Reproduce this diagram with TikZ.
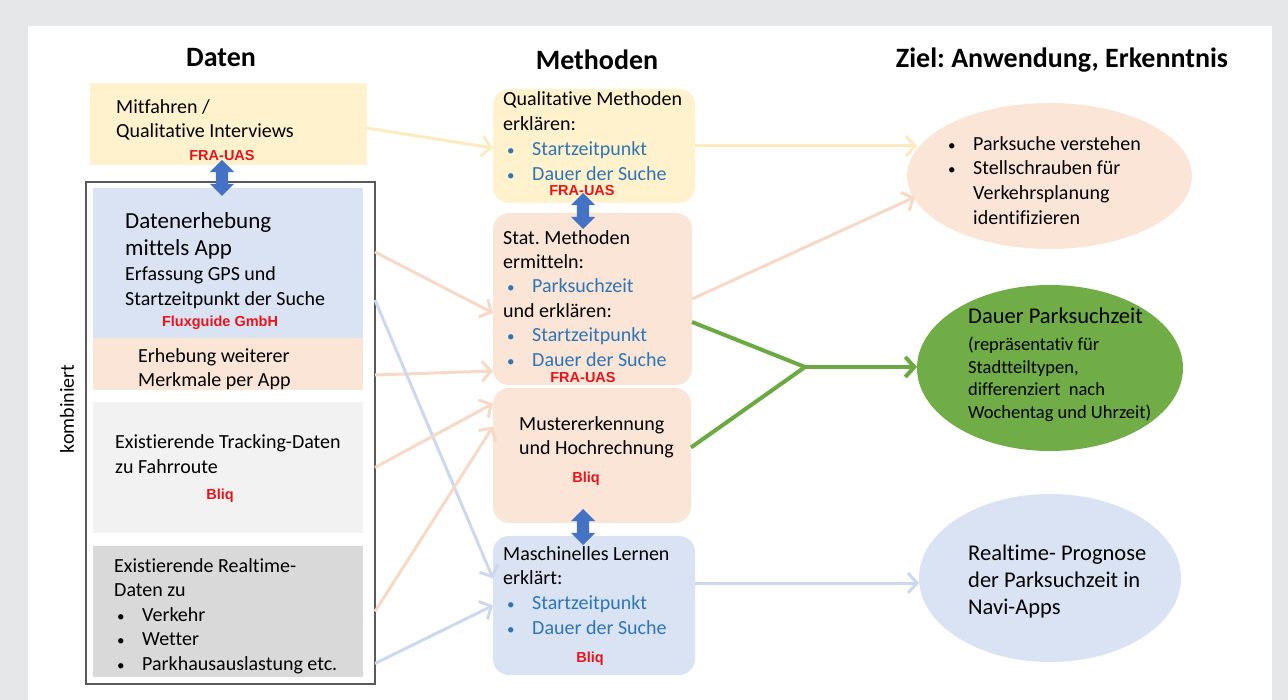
\documentclass[tikz,border=0pt]{standalone}
\usepackage{fontspec}
\setmainfont{Carlito}[Ligatures=NoCommon]
\newfontfamily\arialf{Liberation Sans}
\usetikzlibrary{shapes.geometric,shapes.arrows,arrows.meta,calc}
\frenchspacing
\definecolor{bggrey}{HTML}{E6E7E9}
\definecolor{yel}{HTML}{FFF2CC}
\definecolor{pch}{HTML}{FBE5D6}
\definecolor{lblue}{HTML}{DAE3F3}
\definecolor{gA}{HTML}{F2F2F2}
\definecolor{gB}{HTML}{D9D9D9}
\definecolor{txtblue}{HTML}{2E75B6}
\definecolor{lblred}{HTML}{E8141C}
\definecolor{yelln}{HTML}{FDEBBF}
\definecolor{pchln}{HTML}{F8D9C6}
\definecolor{bluln}{HTML}{CDD8EE}
\definecolor{grnln}{HTML}{6AAA40}
\definecolor{grnfill}{HTML}{70AD47}
\definecolor{dblue}{HTML}{4472C4}
\definecolor{framec}{HTML}{595959}
\newcommand{\bodyf}{\fontsize{20}{24.5}\selectfont}
\newcommand{\smbullet}{{\fontsize{15}{15}\selectfont\textbullet}}
\newcommand{\bitem}[1]{\makebox[25pt][l]{\smbullet}#1}
\tikzset{
  sqbox/.style={rectangle, inner sep=0pt, outer sep=0pt, draw=none},
  rbox/.style={rectangle, rounded corners=16pt, inner sep=0pt, outer sep=0pt, draw=none},
  ell/.style={ellipse, inner sep=0pt, outer sep=0pt, draw=none},
  txt/.style={anchor=north west, inner sep=0pt, align=left, font=\bodyf, execute at begin node=\strut},
  lbl/.style={font=\arialf\bfseries\fontsize{14.5}{16}\selectfont, text=lblred, inner sep=0pt},
  head/.style={font=\bfseries\fontsize{28}{32}\selectfont, inner sep=0pt},
  conn/.style={line width=3pt, -{Straight Barb[length=9pt,width=20pt]}},
  dbl/.style={double arrow, fill=dblue, rotate=90, minimum height=36pt, minimum width=24pt,
    inner xsep=0pt, inner ysep=6pt, double arrow head extend=6pt}
}
\begin{document}
\begin{tikzpicture}[x=1pt,y=-1pt]
\useasboundingbox (0,0) rectangle (1288,700);
\fill[bggrey] (0,0) rectangle (1288,700);
\fill[white] (28,26) rectangle (1272,700);

% headings
\node[head] (hDaten) at (221,58) {Daten};
\node[head] (hMeth) at (597,60) {Methoden};
\node[head] (hZiel) at (1062,60) {Ziel: Anwendung, Erkenntnis};

% left column
\node[sqbox, fill=yel, minimum width=277pt, minimum height=82pt] (mitf) at (228.5,124.5) {};
\node[sqbox, draw=framec, line width=1.2pt, minimum width=289pt, minimum height=502pt] (frame) at (230.5,433) {};
\node[sqbox, fill=lblue, minimum width=270pt, minimum height=150pt] (datA) at (228,263) {};
\node[sqbox, fill=pch, minimum width=270pt, minimum height=52pt] (erh) at (228,364) {};
\node[sqbox, fill=gA, minimum width=270pt, minimum height=131pt] (track) at (228,467.5) {};
\node[sqbox, fill=gB, minimum width=270pt, minimum height=131pt] (rt) at (228,611.5) {};

\node[txt] (tMitf) at (116,99) {Mitfahren /\\Qualitative Interviews};
\node[lbl] (lMitf) at (222,156) {FRA-UAS};
\node[txt, font=\fontsize{23}{27}\selectfont] (tDatA) at (125,212) {Datenerhebung\\mittels App};
\node[txt, font=\fontsize{20}{25}\selectfont] (tDatB) at (125,266) {Erfassung GPS und\\Startzeitpunkt der Suche};
\node[lbl] (lDat) at (220,323) {Fluxguide GmbH};
\node[txt, font=\fontsize{20}{24}\selectfont] (tErh) at (138,348) {Erhebung weiterer\\Merkmale per App};
\node[txt, font=\fontsize{20}{25}\selectfont] (tTrack) at (115,434) {Existierende Tracking-Daten\\zu Fahrroute};
\node[lbl] (lTrack) at (220,496) {Bliq};
\node[txt] (tRt) at (114,558) {Existierende Realtime-\\Daten zu\\\hspace*{3pt}\bitem{Verkehr}\\\hspace*{3pt}\bitem{Wetter}\\\hspace*{3pt}\bitem{Parkhausauslastung etc.}};
\node[font=\bodyf, rotate=90, inner sep=0pt] (komb) at (67,409) {kombiniert};

% middle column
\node[rbox, fill=yel, minimum width=202pt, minimum height=114pt] (qual) at (594,146) {};
\node[rbox, fill=pch, minimum width=199pt, minimum height=172pt] (stat) at (592.5,299) {};
\node[rbox, fill=pch, minimum width=198pt, minimum height=135pt] (must) at (592,455.5) {};
\node[rbox, fill=lblue, minimum width=202pt, minimum height=139pt] (ml) at (594,605.5) {};

\node[txt, font=\fontsize{20}{25}\selectfont] (tQual) at (503,91) {Qualitative Methoden\\erklären:\\\textcolor{txtblue}{\hspace*{4pt}\bitem{Startzeitpunkt}}\\\textcolor{txtblue}{\hspace*{4pt}\bitem{Dauer der Suche}}};
\node[lbl] (lQual) at (582,191) {FRA-UAS};
\node[txt, font=\fontsize{20}{24.4}\selectfont] (tStat) at (503,230) {Stat. Methoden\\ermitteln:\\\textcolor{txtblue}{\hspace*{4pt}\bitem{Parksuchzeit}}\\und erklären:\\\textcolor{txtblue}{\hspace*{4pt}\bitem{Startzeitpunkt}}\\\textcolor{txtblue}{\hspace*{4pt}\bitem{Dauer der Suche}}};
\node[lbl] (lStat) at (583,378) {FRA-UAS};
\node[txt, font=\fontsize{20}{24}\selectfont] (tMust) at (519,416) {Mustererkennung\\und Hochrechnung};
\node[lbl] (lMust) at (586,479) {Bliq};
\node[txt, font=\fontsize{20}{24.7}\selectfont] (tMl) at (503,546) {Maschinelles Lernen\\erklärt:\\\textcolor{txtblue}{\hspace*{4pt}\bitem{Startzeitpunkt}}\\\textcolor{txtblue}{\hspace*{4pt}\bitem{Dauer der Suche}}};
\node[lbl] (lMl) at (590,659) {Bliq};

% right column
\node[ell, fill=pch, minimum width=285pt, minimum height=146pt] (e1) at (1049.5,176) {};
\node[ell, fill=grnfill, minimum width=266pt, minimum height=166pt] (e2) at (1050,368) {};
\node[ell, fill=lblue, minimum width=262pt, minimum height=168pt] (e3) at (1050,578) {};

\node[txt, font=\fontsize{20}{24.7}\selectfont] (tE1) at (948,136) {\bitem{Parksuche verstehen}\\\bitem{Stellschrauben für}\\\hspace*{25pt}Verkehrsplanung\\\hspace*{25pt}identifizieren};
\node[txt, font=\fontsize{22.5}{26}\selectfont] (tE2a) at (968,305) {Dauer Parksuchzeit};
\node[txt, font=\fontsize{18.5}{22.5}\selectfont] (tE2b) at (968,337) {(repräsentativ für\\Stadtteiltypen,\\differenziert\ \ nach\\Wochentag und Uhrzeit)};
\node[txt, font=\fontsize{22.5}{27}\selectfont] (tE3) at (968,545) {Realtime- Prognose\\der Parksuchzeit in\\Navi-Apps};

% connectors
\draw[conn, yelln] ([yshift=-3.5pt]mitf.east) -- ([yshift=-2pt]qual.west);
\draw[conn, yelln] (qual.east) -- ([xshift=10pt]qual.east -| e1.west);
\draw[conn, pchln] ([yshift=11pt]datA.east -| frame.east) -- ([yshift=-14pt]stat.west);
\draw[conn, pchln] ([yshift=-11pt]erh.east -| frame.east) -- ([yshift=-72pt]stat.west);
\draw[conn, bluln] ([yshift=-37pt]datA.east -| frame.east) -- ([yshift=27pt]ml.west);
\draw[conn, pchln] (track.east -| frame.east) -- ([yshift=52pt]must.west);
\draw[conn, pchln] (rt.east -| frame.east) -- ([yshift=29pt]must.west);
\draw[conn, bluln] ([yshift=-52pt]rt.east -| frame.east) -- (ml.west);
\draw[conn, pchln] (stat.east) -- ([xshift=8pt,yshift=-21pt]e1.west);
\coordinate (j) at (805,367);
\draw[grnln, line width=4pt] ([yshift=-23pt]stat.east) -- (j);
\draw[grnln, line width=4pt] ([yshift=8pt]must.east) -- (j);
\draw[conn, grnln, line width=4pt] (j) -- (j -| e2.west);
\draw[conn, bluln] ([yshift=22.5pt]ml.east) -- ([yshift=22.5pt]ml.east -| e3.west);

% double arrows
\node[dbl] (da1) at (222,178) {};
\node[dbl] (da2) at (583,211) {};
\node[dbl] (da3) at (583,527) {};
\end{tikzpicture}
\end{document}
